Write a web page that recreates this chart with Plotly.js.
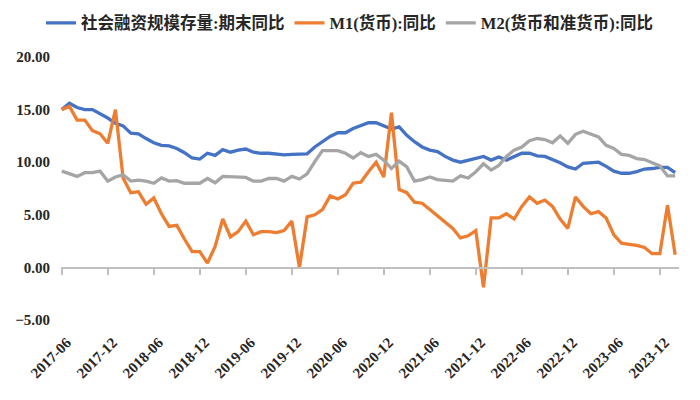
<!DOCTYPE html>
<html>
<head>
<meta charset="utf-8">
<script src="https://cdn.plot.ly/plotly-3.0.1.min.js"></script>
<style>
  html, body { margin: 0; padding: 0; background: #fff; }
  #chart { width: 700px; height: 400px; }
</style>
</head>
<body>
<div id="chart"></div>
<script>
// 月份（2017-06 ~ 2024-02）
var months = [
  '2017-06','2017-07','2017-08','2017-09','2017-10','2017-11','2017-12',
  '2018-01','2018-02','2018-03','2018-04','2018-05','2018-06','2018-07','2018-08','2018-09','2018-10','2018-11','2018-12',
  '2019-01','2019-02','2019-03','2019-04','2019-05','2019-06','2019-07','2019-08','2019-09','2019-10','2019-11','2019-12',
  '2020-01','2020-02','2020-03','2020-04','2020-05','2020-06','2020-07','2020-08','2020-09','2020-10','2020-11','2020-12',
  '2021-01','2021-02','2021-03','2021-04','2021-05','2021-06','2021-07','2021-08','2021-09','2021-10','2021-11','2021-12',
  '2022-01','2022-02','2022-03','2022-04','2022-05','2022-06','2022-07','2022-08','2022-09','2022-10','2022-11','2022-12',
  '2023-01','2023-02','2023-03','2023-04','2023-05','2023-06','2023-07','2023-08','2023-09','2023-10','2023-11','2023-12',
  '2024-01','2024-02'
];

// x轴标签（每半年）
var tickMonths = ['2017-06','2017-12','2018-06','2018-12','2019-06','2019-12','2020-06',
  '2020-12','2021-06','2021-12','2022-06','2022-12','2023-06','2023-12'];

/* 社会融资规模存量:期末同比 */
var tsf = [
  15.0, 15.6, 15.2, 15.0, 15.0, 14.6, 14.2,
  13.7, 13.45, 12.75, 12.7, 12.25, 11.85, 11.6, 11.55, 11.3, 10.9, 10.4, 10.3,
  10.85, 10.65, 11.2, 10.95, 11.15, 11.25, 10.95, 10.85, 10.85, 10.75, 10.7, 10.75,
  10.8, 10.8, 11.45, 11.95, 12.45, 12.8, 12.8, 13.2, 13.5, 13.75, 13.75, 13.45,
  13.15, 13.35, 12.55, 11.95, 11.45, 11.15, 11.0, 10.55, 10.2, 10.0, 10.2, 10.4,
  10.55, 10.2, 10.5, 10.2, 10.55, 10.85, 10.85, 10.6, 10.55, 10.25, 9.95, 9.55,
  9.35, 9.9, 9.95, 10.0, 9.6, 9.15, 8.95, 8.95, 9.1, 9.35, 9.4, 9.5,
  9.5, 9.0
];

/* M1(货币):同比 */
var m1 = [
  15.0, 15.3, 14.0, 14.0, 13.0, 12.7, 11.8,
  15.0, 8.5, 7.1, 7.2, 6.0, 6.6, 5.1, 3.9, 4.0, 2.7, 1.5, 1.5,
  0.4, 2.0, 4.6, 2.9, 3.4, 4.4, 3.1, 3.4, 3.4, 3.3, 3.5, 4.4,
  0.0, 4.8, 5.0, 5.5, 6.8, 6.5, 6.9, 8.0, 8.1, 9.1, 10.0, 8.6,
  14.7, 7.4, 7.1, 6.2, 6.1, 5.5, 4.9, 4.2, 3.7, 2.8, 3.0, 3.5,
  -1.9, 4.7, 4.7, 5.1, 4.6, 5.8, 6.7, 6.1, 6.4, 5.8, 4.6, 3.7,
  6.7, 5.8, 5.1, 5.3, 4.7, 3.1, 2.3, 2.2, 2.1, 1.9, 1.3, 1.3,
  5.9, 1.2
];

/* M2(货币和准货币):同比 */
var m2 = [
  9.15, 8.9, 8.65, 9.0, 9.0, 9.15, 8.2,
  8.6, 8.8, 8.2, 8.3, 8.2, 8.0, 8.5, 8.2, 8.25, 8.0, 8.0, 8.0,
  8.45, 8.05, 8.65, 8.6, 8.6, 8.55, 8.2, 8.2, 8.45, 8.45, 8.2, 8.65,
  8.4, 8.9, 10.05, 11.1, 11.1, 11.1, 10.85, 10.4, 10.9, 10.55, 10.75, 10.2,
  9.4, 10.1, 9.55, 8.2, 8.35, 8.6, 8.35, 8.3, 8.2, 8.7, 8.5, 9.1,
  9.85, 9.25, 9.7, 10.55, 11.15, 11.45, 12.05, 12.25, 12.15, 11.85, 12.5, 11.8,
  12.65, 12.95, 12.7, 12.4, 11.6, 11.3, 10.75, 10.65, 10.35, 10.25, 9.95, 9.65,
  8.7, 8.7
];

var serif = '"Liberation Serif", "Times New Roman", "Noto Sans CJK SC", serif';

var trace1 = {
  x: months, y: tsf, name: '社会融资规模存量:期末同比',
  type: 'scatter', mode: 'lines',
  line: { color: '#4472C4', width: 3.3 }
};
var trace2 = {
  x: months, y: m1, name: 'M1(货币):同比',
  type: 'scatter', mode: 'lines',
  line: { color: '#ED7D31', width: 3.3 }
};
var trace3 = {
  x: months, y: m2, name: 'M2(货币和准货币):同比',
  type: 'scatter', mode: 'lines',
  line: { color: '#A5A5A5', width: 3.3 }
};
// 0轴上的刻度线（空 trace，只为挂 xaxis2）
var axisHolder = {
  x: [0], y: [null], xaxis: 'x2', type: 'scatter', mode: 'lines',
  showlegend: false, hoverinfo: 'skip'
};

var tickIdx = tickMonths.map(function (m) { return months.indexOf(m); });

var layout = {
  width: 700, height: 400,
  margin: { l: 61, r: 21, t: 57, b: 80 },
  paper_bgcolor: '#fff', plot_bgcolor: '#fff',
  showlegend: true,
  legend: {
    orientation: 'h', xref: 'container', yref: 'container',
    x: 0.5, xanchor: 'center', y: 0.942, yanchor: 'middle',
    font: { family: serif, size: 16.5, color: '#262626', weight: 'bold' },
    itemwidth: 30, traceorder: 'normal'
  },
  xaxis: {
    type: 'category', range: [-0.1, 80.5],
    tickvals: tickMonths, ticktext: tickMonths, tickangle: -45,
    showline: false, ticks: '', showgrid: false, zeroline: false,
    ticklabelstandoff: 10, ticklabelshift: 5,
    tickfont: { family: serif, size: 15, color: '#262626', weight: 'bold' }
  },
  xaxis2: {
    overlaying: 'x', anchor: 'free', position: 0.2, type: 'linear',
    range: [-0.1, 80.5], tickvals: tickIdx,
    showline: true, linecolor: '#BFBFBF', linewidth: 1.5,
    ticks: 'outside', ticklen: 6, tickcolor: '#BFBFBF', tickwidth: 1.5,
    showticklabels: false, showgrid: false, zeroline: false
  },
  yaxis: {
    range: [-5, 20], tickvals: [-5, 0, 5, 10, 15, 20], tickformat: '.2f',
    showgrid: false, zeroline: false, showline: false, ticks: '',
    ticklabelstandoff: 10,
    tickfont: { family: serif, size: 15, color: '#262626', weight: 'bold' }
  },
  hovermode: false
};

Plotly.newPlot('chart', [trace1, trace2, trace3, axisHolder], layout, { displayModeBar: false, staticPlot: true });
</script>
</body>
</html>
